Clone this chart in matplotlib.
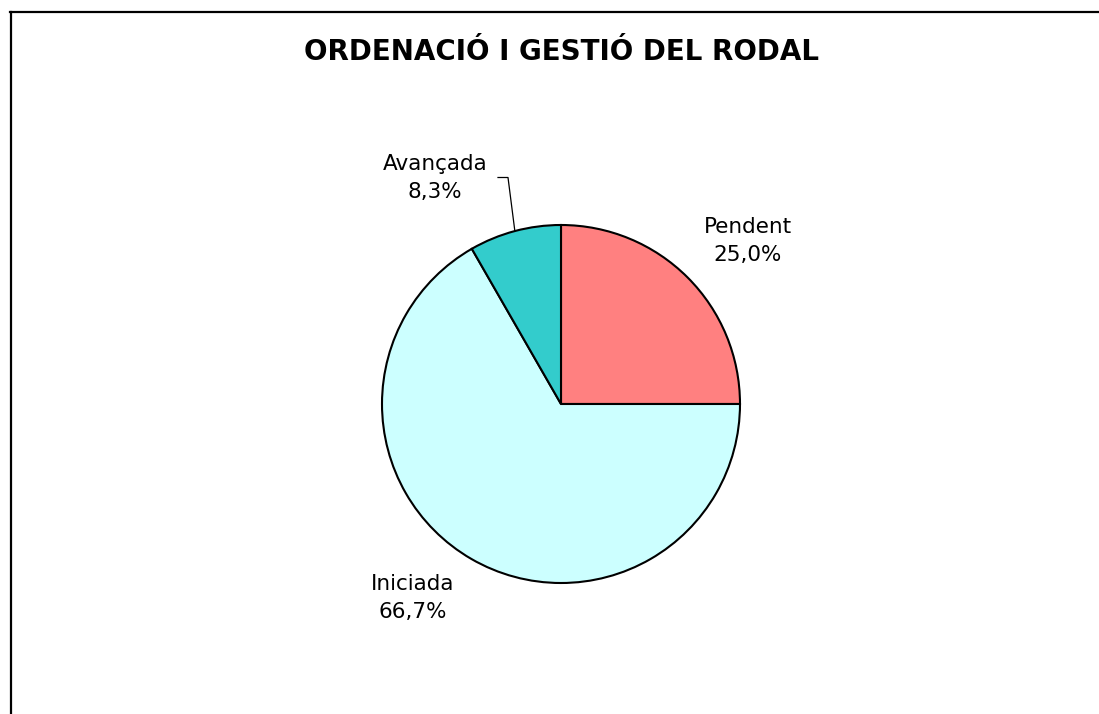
import matplotlib
matplotlib.use("Agg")
import matplotlib.pyplot as plt
import numpy as np
from matplotlib.lines import Line2D

title = "ORDENACIÓ I GESTIÓ DEL RODAL"
categories = ["Pendent", "Iniciada", "Avançada"]
values = [25.0, 66.7, 8.3]
colors = ["#FF8080", "#CCFFFF", "#33CCCC"]

W, H = 1099, 714
fig = plt.figure(figsize=(W / 100, H / 100), dpi=100)
fig.patch.set_facecolor("white")

# frame lines (left and top)
fig.add_artist(Line2D([10.5 / W, 10.5 / W], [0, 1 - 11.5 / H], color="black", lw=1.6,
                      transform=fig.transFigure))
fig.add_artist(Line2D([10 / W, 1], [1 - 11.5 / H, 1 - 11.5 / H], color="black", lw=1.6,
                      transform=fig.transFigure))

cx, cy, r = 561, 404, 179
ax = fig.add_axes([(cx - r) / W, (H - cy - r) / H, 2 * r / W, 2 * r / H])
wedges, _ = ax.pie(values, colors=colors, startangle=90, counterclock=False,
                   wedgeprops=dict(edgecolor="black", linewidth=1.5), radius=1.0)
ax.set_xlim(-1, 1)
ax.set_ylim(-1, 1)
ax.set_aspect("equal")
ax.axis("off")

# label centres in pixels (x, y from top)
label_px = [(748, 241), (413, 598), (435, 178)]
for cat, v, (px, py) in zip(categories, values, label_px):
    txt = f"{cat}\n{v:.1f}%".replace(".", ",")
    ax.text((px - cx) / r, (cy - py) / r, txt, ha="center", va="center", fontsize=15.5,
            linespacing=1.55, clip_on=False, fontfamily="DejaVu Sans")

# leader line for Avançada
w = wedges[2]
mid = np.deg2rad((w.theta1 + w.theta2) / 2)
ex, ey = np.cos(mid), np.sin(mid)
ly = (cy - 177.5) / r
ax.plot([(498 - cx) / r, (508 - cx) / r, ex], [ly, ly, ey], color="black", lw=0.9,
        clip_on=False)

fig.text(562 / W, 1 - 59.5 / H, title, ha="center", va="baseline", fontsize=20,
         fontweight="bold", fontfamily="DejaVu Sans")

fig.savefig("out.png", dpi=100)
